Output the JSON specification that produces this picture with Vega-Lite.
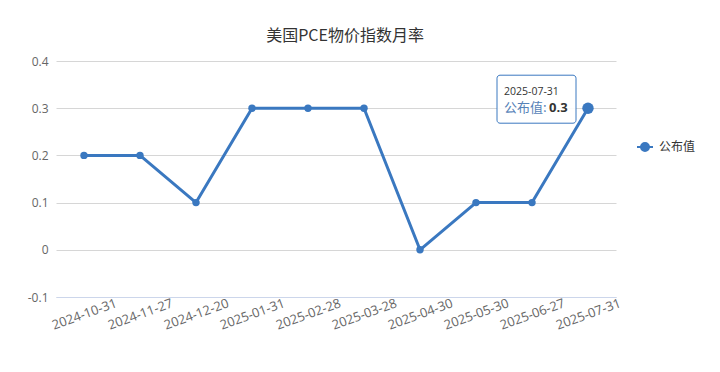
{
  "$schema": "https://vega.github.io/schema/vega-lite/v6.json",
  "width": 560,
  "height": 236,
  "autosize": {"type": "none"},
  "padding": {"left": 56, "top": 61, "right": 104, "bottom": 75},
  "background": "white",
  "config": {
    "font": "'Open Sans', 'Noto Sans CJK SC', sans-serif",
    "view": {"stroke": null}
  },
  "title": {
    "text": "美国PCE物价指数月率",
    "fontSize": 16,
    "fontWeight": "normal",
    "color": "#333333",
    "font": "'Noto Sans CJK SC', sans-serif",
    "anchor": "middle",
    "offset": 11,
    "dx": 9
  },
  "datasets": {
    "main": [
      {"date": "2024-10-31", "value": 0.2, "series": "公布值"},
      {"date": "2024-11-27", "value": 0.2, "series": "公布值"},
      {"date": "2024-12-20", "value": 0.1, "series": "公布值"},
      {"date": "2025-01-31", "value": 0.3, "series": "公布值"},
      {"date": "2025-02-28", "value": 0.3, "series": "公布值"},
      {"date": "2025-03-28", "value": 0.3, "series": "公布值"},
      {"date": "2025-04-30", "value": 0.0, "series": "公布值"},
      {"date": "2025-05-30", "value": 0.1, "series": "公布值"},
      {"date": "2025-06-27", "value": 0.1, "series": "公布值"},
      {"date": "2025-07-31", "value": 0.3, "series": "公布值"}
    ],
    "tip": [
      {"date": "2025-07-31", "value": 0.3, "series": "公布值", "dateLabel": "2025-07-31", "nameLabel": "公布值:", "valueLabel": "0.3"}
    ]
  },
  "encoding": {
    "x": {
      "field": "date",
      "type": "ordinal",
      "sort": null,
      "scale": {"type": "point", "padding": 0.5},
      "axis": {
        "title": null,
        "labelAngle": -20,
        "labelAlign": "center",
        "labelBaseline": "middle",
        "labelPadding": 17,
        "labelFontSize": 13,
        "labelColor": "#666666",
        "ticks": false,
        "domainColor": "#ccd6eb",
        "domainWidth": 1,
        "grid": false
      }
    },
    "y": {
      "field": "value",
      "type": "quantitative",
      "scale": {"domain": [-0.1, 0.4], "nice": false, "zero": false},
      "axis": {
        "title": null,
        "values": [-0.1, 0, 0.1, 0.2, 0.3, 0.4],
        "labelExpr": "(datum.value < -0.001 ? '-' : '') + format(abs(datum.value), '.1~f')",
        "labelFontSize": 12,
        "labelColor": "#666666",
        "labelPadding": 8,
        "domain": false,
        "ticks": false,
        "grid": true,
        "gridColor": "#d6d6d6",
        "gridWidth": 1
      }
    }
  },
  "layer": [
    {
      "data": {"name": "main"},
      "mark": {"type": "line", "strokeWidth": 3, "strokeJoin": "round"},
      "encoding": {
        "color": {
          "field": "series",
          "type": "nominal",
          "scale": {"range": ["#3a78c0"]},
          "legend": {
            "title": null,
            "orient": "none",
            "legendX": 580,
            "legendY": 77,
            "symbolType": "M-1,0L1,0M-0.5,0a0.5,0.5 0 1,0 1,0a0.5,0.5 0 1,0 -1,0",
            "symbolSize": 256,
            "symbolStrokeWidth": 2,
            "symbolFillColor": "#3a78c0",
            "symbolStrokeColor": "#3a78c0",
            "labelFontSize": 12,
            "labelColor": "#333333",
            "labelFont": "'Noto Sans CJK SC', sans-serif",
            "labelOffset": 5
          }
        }
      }
    },
    {
      "data": {"name": "main"},
      "mark": {"type": "point", "filled": true, "opacity": 1, "size": 55, "color": "#3a78c0"},
      "encoding": {}
    },
    {
      "data": {"name": "tip"},
      "mark": {"type": "point", "filled": true, "opacity": 1, "size": 130, "color": "#3a78c0"},
      "encoding": {}
    },
    {
      "data": {"name": "tip"},
      "mark": {
        "type": "rect",
        "fill": "white",
        "fillOpacity": 0.9,
        "stroke": "#3a78c0",
        "strokeWidth": 1,
        "cornerRadius": 3,
        "xOffset": -91,
        "x2Offset": -12,
        "yOffset": -33,
        "y2Offset": 15
      },
      "encoding": {
        "x2": {"field": "date"},
        "y2": {"field": "value"}
      }
    },
    {
      "data": {"name": "tip"},
      "mark": {"type": "text", "align": "left", "baseline": "middle", "dx": -84, "dy": -16, "fontSize": 10.5, "color": "#333333"},
      "encoding": {"text": {"field": "dateLabel"}}
    },
    {
      "data": {"name": "tip"},
      "mark": {"type": "text", "align": "left", "baseline": "middle", "dx": -84, "dy": 0, "fontSize": 13, "color": "#5682b8", "font": "'Noto Sans CJK SC', sans-serif"},
      "encoding": {"text": {"field": "nameLabel"}}
    },
    {
      "data": {"name": "tip"},
      "mark": {"type": "text", "align": "left", "baseline": "middle", "dx": -39, "dy": 0, "fontSize": 13, "fontWeight": "bold", "color": "#333333"},
      "encoding": {"text": {"field": "valueLabel"}}
    }
  ]
}
